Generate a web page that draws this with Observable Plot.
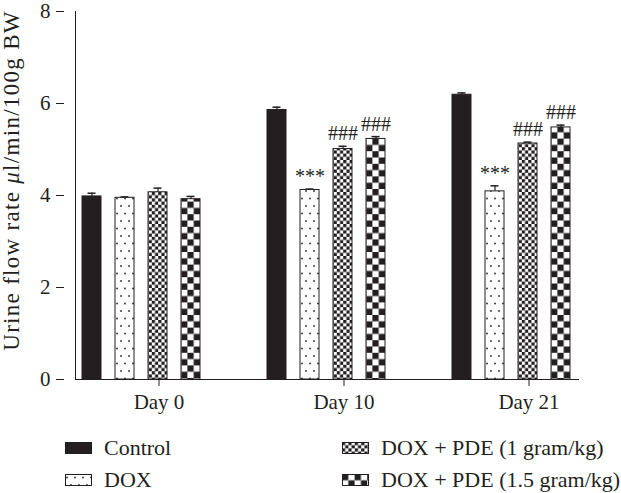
<!DOCTYPE html>
<html><head><meta charset="utf-8">
<script src="https://cdn.jsdelivr.net/npm/d3@7"></script>
<script src="https://cdn.jsdelivr.net/npm/@observablehq/plot@0.6"></script>
<style>
body{margin:0;background:#fff;font-family:"Liberation Serif",serif;color:#231f20;width:621px;overflow:hidden}
#legend{position:relative;height:63px;width:621px}
.item{position:absolute;display:flex;align-items:center;font-size:22px;line-height:22px;white-space:nowrap}
.item svg{margin-right:12px}
</style></head><body>
<svg width="0" height="0" style="position:absolute">
<defs>
<pattern id="dots" patternUnits="userSpaceOnUse" width="8" height="15">
<rect width="8" height="15" fill="#fff"/>
<rect x="1.2" y="2.7" width="1.6" height="1.6" fill="#231f20"/>
<rect x="5.2" y="10.2" width="1.6" height="1.6" fill="#231f20"/>
</pattern>
<pattern id="checkS" patternUnits="userSpaceOnUse" width="6.4" height="6.4">
<rect width="6.4" height="6.4" fill="#fff"/>
<rect x="0" y="0" width="3.2" height="3.2" fill="#231f20"/>
<rect x="3.2" y="3.2" width="3.2" height="3.2" fill="#231f20"/>
</pattern>
<pattern id="checkL" patternUnits="userSpaceOnUse" width="12.6" height="12.6">
<rect width="12.6" height="12.6" fill="#fff"/>
<rect x="0" y="0" width="6.3" height="6.3" fill="#231f20"/>
<rect x="6.3" y="6.3" width="6.3" height="6.3" fill="#231f20"/>
</pattern>
</defs>
</svg>
<div id="chart"></div>
<div id="legend"></div>
<script>
const days = ["Day 0", "Day 10", "Day 21"];
const groups = ["Control", "DOX", "DOX + PDE (1 gram/kg)", "DOX + PDE (1.5 gram/kg)"];
const control = [3.98, 5.86, 6.19];
const dox = [3.95, 4.12, 4.09];
const pde1 = [4.07, 5.01, 5.13];
const pde15 = [3.92, 5.23, 5.48];
const controlErr = [0.07, 0.06, 0.04];
const doxErr = [0.02, 0.02, 0.12];
const pde1Err = [0.09, 0.06, 0.03];
const pde15Err = [0.06, 0.05, 0.05];
const controlNote = ["", "", ""];
const doxNote = ["", "***", "***"];
const pde1Note = ["", "###", "###"];
const pde15Note = ["", "###", "###"];
const yTicks = [0, 2, 4, 6, 8];
const yLabel = "Urine flow rate μl/min/100g BW";

const fills = {
  "Control": "#231f20",
  "DOX": "url(#dots)",
  "DOX + PDE (1 gram/kg)": "url(#checkS)",
  "DOX + PDE (1.5 gram/kg)": "url(#checkL)"
};
const series = [[control, controlErr, controlNote], [dox, doxErr, doxNote], [pde1, pde1Err, pde1Note], [pde15, pde15Err, pde15Note]];
const data = [];
days.forEach((day, i) => {
  groups.forEach((g, j) => {
    data.push({day, group: g, value: series[j][0][i], err: series[j][1][i], note: series[j][2][i]});
  });
});
const ink = "#231f20";
const W = 621, ML = 64;

function build(axisShift) {
  return Plot.plot({
    width: W, height: 430,
    marginLeft: ML, marginRight: 11, marginTop: 11, marginBottom: 51,
    style: {fontFamily: "'Liberation Serif', serif", fontSize: "21px", color: ink, background: "#fff"},
    fx: {domain: days, paddingInner: 0.281, paddingOuter: 0.116, align: 0.25, label: null},
    x: {domain: groups, paddingInner: 0.42, paddingOuter: 0.21, axis: null},
    y: {domain: [0, 8], axis: null},
    color: {type: "identity"},
    marks: [
      Plot.barY(data, {fx: "day", x: "group", y: "value", fill: d => fills[d.group], stroke: ink, strokeWidth: 1}),
      Plot.ruleX(data, {fx: "day", x: "group", y1: "value", y2: d => d.value + d.err, stroke: ink, strokeWidth: 1.2}),
      Plot.tickY(data, {fx: "day", x: "group", y: d => d.value + d.err, insetLeft: 5.5, insetRight: 5.5, stroke: ink, strokeWidth: 1.5}),
      Plot.text(data.filter(d => d.note), {fx: "day", x: "group", y: d => d.value + d.err, text: "note", lineAnchor: "bottom", dy: -6, fontSize: 20, fill: ink}),
      Plot.axisY({ticks: yTicks, tickSize: 8, tickPadding: 6, fontSize: 21, label: null, dx: -axisShift, stroke: ink}),
      Plot.axisFx({anchor: "bottom", tickSize: 7, tickPadding: 8, dx: 17, fontSize: 21, label: null, stroke: ink}),
      Plot.text([yLabel], {frameAnchor: "left", rotate: -90, textAnchor: "middle", dx: -64, dy: -15, fontSize: 23, fill: ink, facet: "super"}),
      Plot.frame({anchor: "left", facet: "super", stroke: ink}),
      Plot.frame({anchor: "bottom", facet: "super", stroke: ink})
    ]
  });
}
// first pass to measure where the first facet starts, then shift y axis to the frame edge
const probe = build(0);
const shift = probe.scale("fx").apply(days[0]) - ML;
const plot = build(shift);
document.getElementById("chart").appendChild(plot);

// italic mu in label
plot.querySelectorAll("text").forEach(t => {
  if (t.textContent === yLabel) {
    t.setAttribute("letter-spacing", "1.3");
    const parts = yLabel.split("μ");
    t.textContent = "";
    const a = document.createElementNS("http://www.w3.org/2000/svg", "tspan"); a.textContent = parts[0];
    const m = document.createElementNS("http://www.w3.org/2000/svg", "tspan"); m.textContent = "μ"; m.setAttribute("font-style", "italic");
    const b = document.createElementNS("http://www.w3.org/2000/svg", "tspan"); b.textContent = parts[1];
    t.append(a, m, b);
  }
});

const legendPos = [[65, 7], [65, 39], [342, 7], [342, 39]];
const legend = document.getElementById("legend");
groups.forEach((g, i) => {
  const div = document.createElement("div");
  div.className = "item";
  div.style.left = legendPos[i][0] + "px";
  div.style.top = legendPos[i][1] + "px";
  div.innerHTML = `<svg width="27" height="12"><rect x="0.5" y="0.5" width="26" height="11" fill="${fills[g]}" stroke="${ink}" stroke-width="1"/></svg><span>${g}</span>`;
  legend.appendChild(div);
});
</script>
</body></html>
